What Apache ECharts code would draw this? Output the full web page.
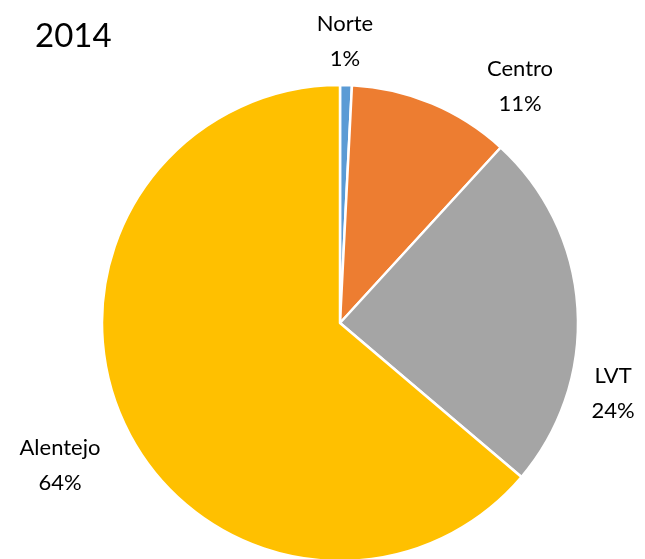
<!DOCTYPE html>
<html>
<head>
<meta charset="utf-8">
<script src="https://cdn.jsdelivr.net/npm/echarts@6/dist/echarts.min.js"></script>
<style>
  html, body { margin: 0; padding: 0; background: #fff; }
  #chart { width: 645px; height: 559px; }
</style>
</head>
<body>
<div id="chart"></div>
<script>
// Regional shares for 2014
const regions = ['Norte', 'Centro', 'LVT', 'Alentejo'];
const shares = [0.8, 11.0, 24.4, 63.8];
const colors = ['#5B9BD5', '#ED7D31', '#A5A5A5', '#FFC000'];

// Label anchor points (centre of each two-line label)
const labelSpots = [[345, 41], [520, 86], [613, 393], [60, 465]];

const chart = echarts.init(document.getElementById('chart'));
chart.setOption({
  animation: false,
  title: {
    text: '2014',
    left: 30,
    top: 15,
    textStyle: { fontFamily: 'Lato', fontSize: 33, fontWeight: 'normal', color: '#000' }
  },
  series: [{
    type: 'pie',
    center: [340, 323],
    radius: 238,
    startAngle: 90,
    clockwise: true,
    percentPrecision: 0,
    data: regions.map((name, i) => ({
      name, value: shares[i], itemStyle: { color: colors[i] }
    })),
    itemStyle: { borderColor: '#fff', borderWidth: 2.5 },
    label: {
      show: true,
      position: 'outside',
      formatter: '{b}\n{d}%',
      fontFamily: 'Lato',
      fontSize: 22,
      lineHeight: 35,
      color: '#000',
      align: 'center',
      overflow: 'none',
      width: 120
    },
    labelLine: { show: false },
    labelLayout: (p) => ({
      x: labelSpots[p.dataIndex][0],
      y: labelSpots[p.dataIndex][1],
      align: 'center',
      verticalAlign: 'middle'
    })
  }]
});
</script>
</body>
</html>
